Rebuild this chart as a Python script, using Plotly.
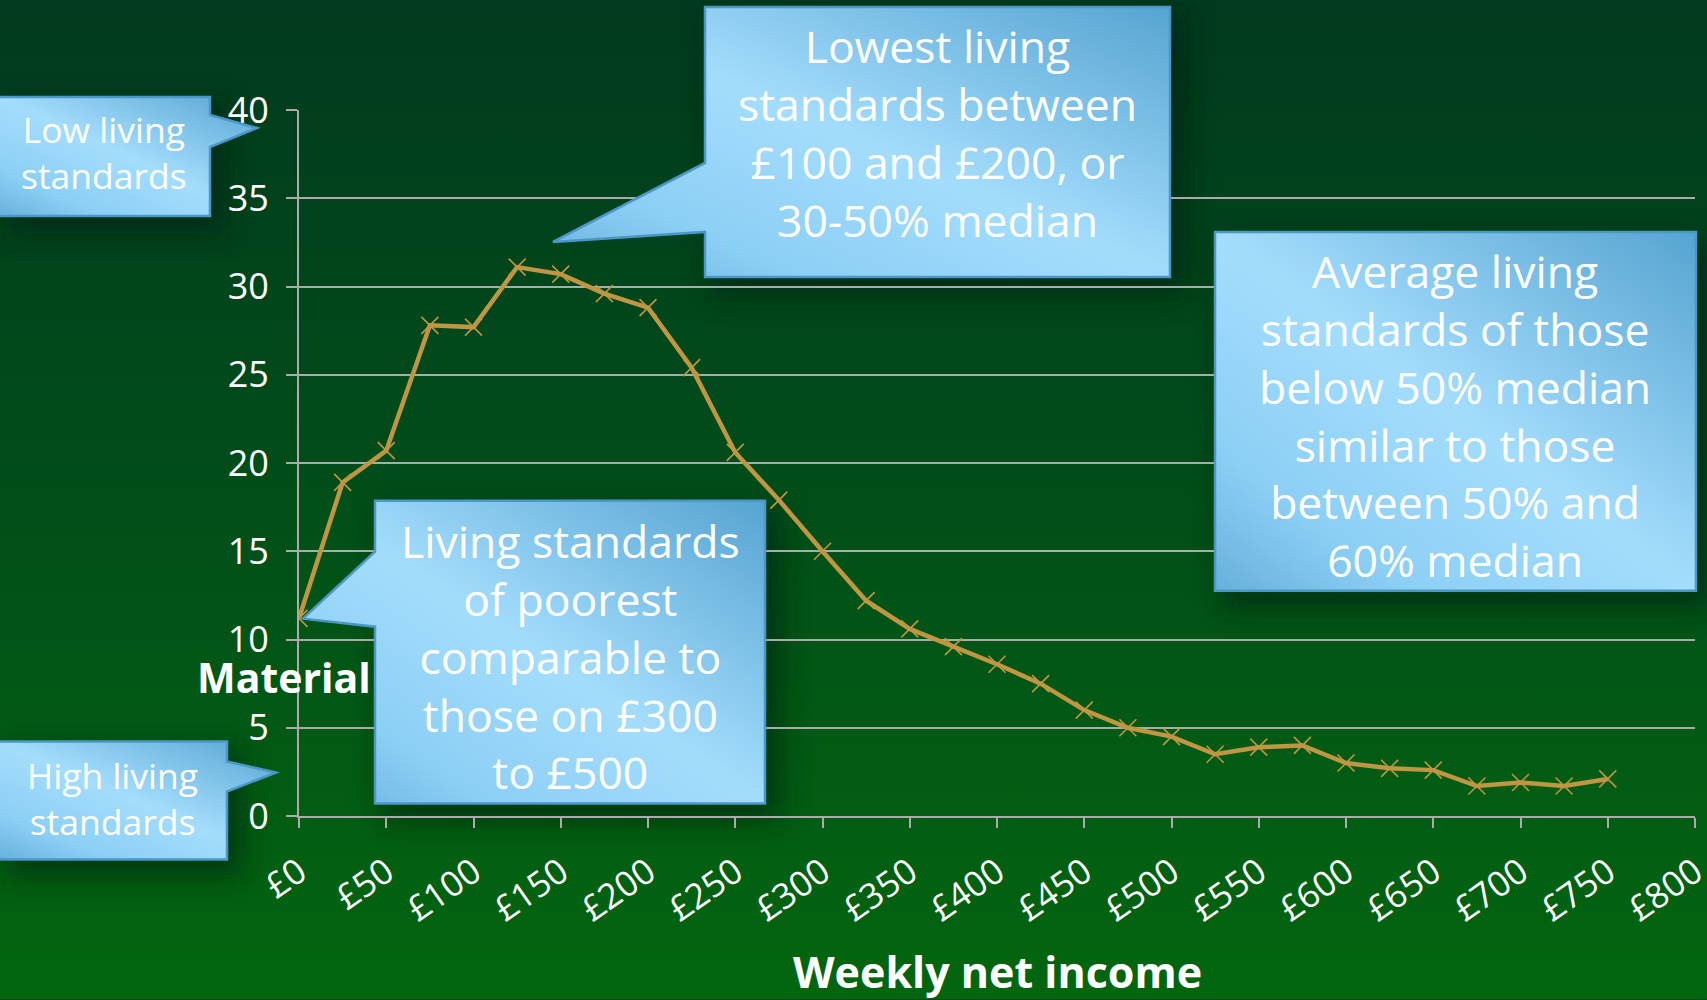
import base64
import plotly.graph_objects as go

# ---------------- data ----------------
income = [0, 25, 50, 75, 100, 125, 150, 175, 200, 225, 250, 275, 300, 325, 350,
          375, 400, 425, 450, 475, 500, 525, 550, 575, 600, 625, 650, 675, 700, 725, 750]
deprivation = [11.2, 18.9, 20.7, 27.8, 27.7, 31.1, 30.7, 29.6, 28.8, 25.4, 20.6, 17.9, 15.0, 12.2, 10.6,
               9.6, 8.6, 7.5, 6.0, 5.0, 4.5, 3.5, 3.9, 4.0, 3.0, 2.7, 2.6, 1.7, 1.9, 1.7, 2.1]
x_tick_vals = [0, 50, 100, 150, 200, 250, 300, 350, 400, 450, 500, 550, 600, 650, 700, 750, 800]
x_tick_text = ["£0", "£50", "£100", "£150", "£200", "£250", "£300", "£350", "£400", "£450",
               "£500", "£550", "£600", "£650", "£700", "£750", "£800"]
y_tick_vals = [0, 5, 10, 15, 20, 25, 30, 35, 40]

x_title = "Weekly net income"
y_title = "Material"

callout_low = "Low living<br>standards"
callout_high = "High living<br>standards"
callout_lowest = "Lowest living<br>standards between<br>£100 and £200, or<br>30-50% median"
callout_poorest = "Living standards<br>of poorest<br>comparable to<br>those on £300<br>to £500"
callout_average = ("Average living<br>standards of those<br>below 50% median<br>similar to those"
                   "<br>between 50% and<br>60% median")

# ---------------- layout geometry (pixels) ----------------
W, H = 1707, 1000
L, R, T, B = 299, 12, 110, 183.5
PW, PH = W - L - R, H - T - B


def px(x):
    return (x - L) / PW


def py(y):
    return (H - B - y) / PH


FONT = "Open Sans, Noto Sans, DejaVu Sans, sans-serif"
BOX_LINE = "#4b97c8"
LINE_COL = "#c09642"
GRID_COL = "#ababab"

# callout outlines (box + pointer), pixel coordinates
callout_outlines = [
    [(-3, 97), (210, 97), (210, 115), (257, 128), (210, 147), (210, 216), (-3, 216)],
    [(-3, 742), (227, 742), (227, 762), (276, 773), (227, 792), (227, 860), (-3, 860)],
    [(705, 7), (1170, 7), (1170, 277), (705, 277), (705, 232), (553, 242), (705, 163)],
    [(375, 501), (765, 501), (765, 804), (375, 804), (375, 627), (303, 619), (375, 552)],
    [(1215, 232), (1696, 232), (1696, 591), (1215, 591)],
]
shadow_boxes = [(0, 97, 210, 216), (0, 742, 227, 860), (705, 7, 1170, 277),
                (375, 501, 765, 804), (1215, 232, 1696, 591)]

# background gradient + soft shadows (decorative, below the plot)
shadow_rects = "".join(
    f'<rect x="{x0 + 6}" y="{y0 + 8}" width="{x1 - x0 + 10}" height="{y1 - y0 + 10}" '
    f'fill="#001a0a" opacity="0.55" filter="url(#b)"/>'
    for (x0, y0, x1, y1) in shadow_boxes)
svg_bg = (f'<svg xmlns="http://www.w3.org/2000/svg" width="{W}" height="{H}" viewBox="0 0 {W} {H}" '
          f'preserveAspectRatio="none">'
          '<defs><linearGradient id="g" x1="0" y1="0" x2="0" y2="1">'
          '<stop offset="0" stop-color="#013a1e"/><stop offset="0.45" stop-color="#014c1a"/>'
          '<stop offset="1" stop-color="#03660f"/></linearGradient>'
          '<filter id="b" x="-20%" y="-20%" width="140%" height="140%">'
          '<feGaussianBlur stdDeviation="14"/></filter></defs>'
          f'<rect width="{W}" height="{H}" fill="url(#g)"/>' + shadow_rects + '</svg>')

# callout bodies with a diagonal blue gradient (decorative, above the plot)
paths = "".join(
    '<path d="M ' + " L ".join(f"{x},{y}" for x, y in pts) + ' Z" fill="url(#cg)" '
    f'stroke="{BOX_LINE}" stroke-width="2.5" stroke-linejoin="miter"/>'
    for pts in callout_outlines)
svg_fg = (f'<svg xmlns="http://www.w3.org/2000/svg" width="{W}" height="{H}" viewBox="0 0 {W} {H}" '
          f'preserveAspectRatio="none">'
          '<defs><linearGradient id="cg" x1="1" y1="0" x2="0" y2="1">'
          '<stop offset="0" stop-color="#56a4d2"/><stop offset="0.5" stop-color="#a4ddfc"/>'
          '<stop offset="0.8" stop-color="#8ccff5"/><stop offset="1" stop-color="#66b0dc"/>'
          '</linearGradient></defs>' + paths + '</svg>')


def data_uri(svg):
    return "data:image/svg+xml;base64," + base64.b64encode(svg.encode()).decode()


fig = go.Figure()
fig.add_trace(go.Scatter(
    x=income, y=deprivation, mode="lines+markers",
    line=dict(color=LINE_COL, width=4.5),
    marker=dict(symbol="x-thin", size=17, line=dict(color=LINE_COL, width=1.6)),
    hoverinfo="x+y", showlegend=False))

annotations = []
# axis titles
annotations.append(dict(text=f"<b>{y_title}</b>", xref="paper", yref="paper",
                        x=px(195), y=py(677), xanchor="left", yanchor="middle",
                        showarrow=False, font=dict(family=FONT, size=41, color="white")))
annotations.append(dict(text=f"<b>{x_title}</b>", xref="paper", yref="paper",
                        x=px(997), y=py(972), xanchor="center", yanchor="middle",
                        showarrow=False, font=dict(family=FONT, size=43, color="white")))

# callout texts: (text, cx, cy, size)
callout_texts = [
    (callout_low, 104, 152, 35.5),
    (callout_high, 112, 798, 35.5),
    (callout_lowest, 937, 133, 44.5),
    (callout_poorest, 570, 656, 44.5),
    (callout_average, 1455, 415, 44.5),
]
for text, cx, cy, size in callout_texts:
    annotations.append(dict(text=text, xref="paper", yref="paper", x=px(cx), y=py(cy),
                            xanchor="center", yanchor="middle", showarrow=False, align="center",
                            font=dict(family=FONT, size=size, color="white")))

full = dict(xref="paper", yref="paper", x=px(0), y=py(0), sizex=W / PW, sizey=H / PH,
            xanchor="left", yanchor="top", sizing="stretch")

fig.update_layout(
    width=W, height=H,
    margin=dict(l=L, r=R, t=T, b=B, autoexpand=False),
    paper_bgcolor="#014a1a", plot_bgcolor="rgba(0,0,0,0)",
    images=[dict(source=data_uri(svg_bg), layer="below", **full),
            dict(source=data_uri(svg_fg), layer="above", **full)],
    annotations=annotations,
    xaxis=dict(range=[0, 800], tickvals=x_tick_vals, ticktext=x_tick_text, tickangle=-35,
               showgrid=False, zeroline=False, showline=True, linecolor=GRID_COL, linewidth=2,
               ticks="outside", ticklen=10, tickwidth=2, tickcolor=GRID_COL,
               ticklabelstandoff=10, ticklabeloverflow="allow",
               tickfont=dict(family=FONT, size=35, color="white"), fixedrange=True),
    yaxis=dict(range=[0, 40], tickvals=y_tick_vals, showgrid=True, gridcolor=GRID_COL, gridwidth=2,
               zeroline=False, showline=True, linecolor=GRID_COL, linewidth=2,
               ticks="outside", ticklen=11, tickwidth=2, tickcolor=GRID_COL,
               ticklabelstandoff=10, ticklabeloverflow="allow",
               tickfont=dict(family=FONT, size=36, color="white"), fixedrange=True),
    font=dict(family=FONT, color="white"),
)

fig.write_html("out.html", config={"displayModeBar": False},
               post_script="document.body.style.margin='0';")
